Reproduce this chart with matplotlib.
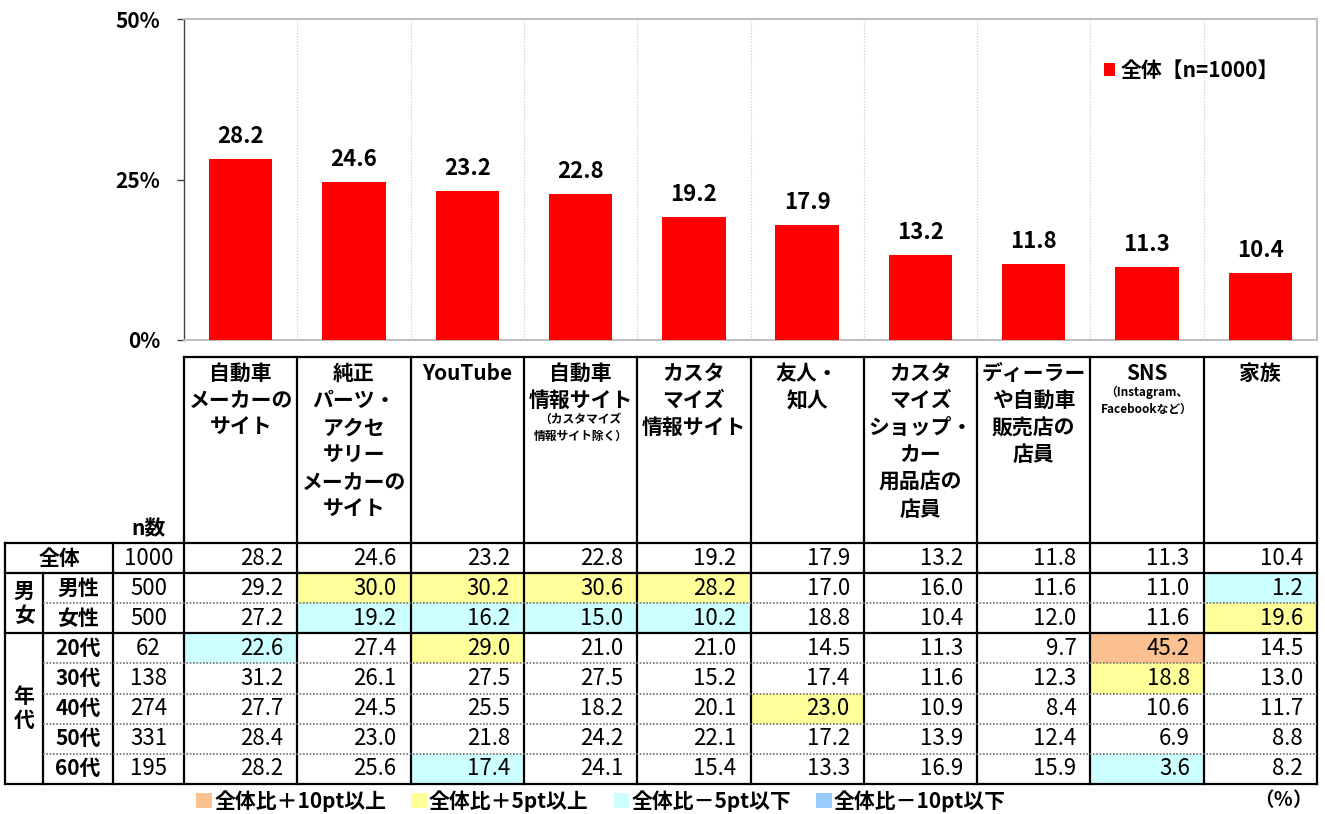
import matplotlib
matplotlib.use('Agg')
import matplotlib.pyplot as plt
from matplotlib.patches import Rectangle, Patch
import numpy as np

plt.rcParams['font.family'] = ['Noto Sans CJK JP', 'DejaVu Sans']

# ---- data ----
categories = ["自動車\nメーカーの\nサイト",
              "純正\nパーツ・\nアクセ\nサリー\nメーカーの\nサイト",
              "YouTube",
              "自動車\n情報サイト",
              "カスタ\nマイズ\n情報サイト",
              "友人・\n知人",
              "カスタ\nマイズ\nショップ・\nカー\n用品店の\n店員",
              "ディーラー\nや自動車\n販売店の\n店員",
              "SNS",
              "家族"]
notes = ["", "", "", "（カスタマイズ\n情報サイト除く）", "", "", "", "",
         "（Instagram、\nFacebookなど）", ""]
total = [28.2, 24.6, 23.2, 22.8, 19.2, 17.9, 13.2, 11.8, 11.3, 10.4]

row_names = ["全体", "男性", "女性", "20代", "30代", "40代", "50代", "60代"]
row_n = [1000, 500, 500, 62, 138, 274, 331, 195]
male = [29.2, 30.0, 30.2, 30.6, 28.2, 17.0, 16.0, 11.6, 11.0, 1.2]
female = [27.2, 19.2, 16.2, 15.0, 10.2, 18.8, 10.4, 12.0, 11.6, 19.6]
age20 = [22.6, 27.4, 29.0, 21.0, 21.0, 14.5, 11.3, 9.7, 45.2, 14.5]
age30 = [31.2, 26.1, 27.5, 27.5, 15.2, 17.4, 11.6, 12.3, 18.8, 13.0]
age40 = [27.7, 24.5, 25.5, 18.2, 20.1, 23.0, 10.9, 8.4, 10.6, 11.7]
age50 = [28.4, 23.0, 21.8, 24.2, 22.1, 17.2, 13.9, 12.4, 6.9, 8.8]
age60 = [28.2, 25.6, 17.4, 24.1, 15.4, 13.3, 16.9, 15.9, 3.6, 8.2]
table_vals = [total, male, female, age20, age30, age40, age50, age60]

legend_labels = ["全体比＋10pt以上", "全体比＋5pt以上", "全体比－5pt以下", "全体比－10pt以下"]
legend_colors = ["#FAC090", "#FFFF99", "#CCFFFF", "#99CCFF"]


def cell_color(v, base):
    d = round(v - base, 1)
    if d >= 10:
        return legend_colors[0]
    if d >= 5:
        return legend_colors[1]
    if d <= -10:
        return legend_colors[3]
    if d <= -5:
        return legend_colors[2]
    return None


W, H = 1325, 814
fig = plt.figure(figsize=(13.25, 8.14), dpi=100, facecolor="white")

# layout in pixels
X0, X1 = 184, 1317
colw = (X1 - X0) / 10
P_TOP, P_BOT = 19, 340

# ---- bar chart ----
ax = fig.add_axes([X0 / W, 1 - P_BOT / H, (X1 - X0) / W, (P_BOT - P_TOP) / H])
xs = np.arange(len(total))
ax.bar(xs, total, width=0.56, color="#FF0000", label="全体【n=1000】", zorder=3)
for x, v in zip(xs, total):
    ax.annotate(f"{v:.1f}", (x, v), xytext=(0, 8), textcoords="offset points",
                ha="center", va="bottom", fontsize=16, fontweight="bold")
ax.set_xlim(-0.5, 9.5)
ax.set_ylim(0, 50)
ax.set_xticks([])
ax.set_yticks([0, 25, 50])
ax.set_yticklabels(["0%", "25%", "50%"], fontsize=15, fontweight="bold")
ax.tick_params(axis="y", length=5, width=1, color="#404040", pad=12)
for b in np.arange(0.5, 9.5):
    ax.axvline(b, color="#C8C8C8", lw=0.8, ls=":", zorder=1)
for s in ["top", "right", "bottom"]:
    ax.spines[s].set_color("#BFBFBF")
    ax.spines[s].set_linewidth(1.5)
ax.spines["left"].set_color("#404040")
ax.spines["left"].set_linewidth(1)
ax.legend(loc="center left", bbox_to_anchor=(0.812, 0.84), frameon=False,
          borderpad=0, borderaxespad=0, handlelength=0.55, handleheight=0.55,
          handletextpad=0.25, prop={"size": 15, "weight": "bold"})

# ---- table (pixel coordinates) ----
tab = fig.add_axes([0, 0, 1, 1])
tab.set_xlim(0, W)
tab.set_ylim(H, 0)
tab.axis("off")

HDR_TOP = 357
ROW_TOP = 543
ROW_H = 30.1
nrows = len(row_names)
row_y = [ROW_TOP + i * ROW_H for i in range(nrows + 1)]
col_x = [X0 + i * colw for i in range(11)]
L0, L1, L2 = 5, 43, 113

# colored cells
for r in range(1, nrows):
    for c in range(10):
        fc = cell_color(table_vals[r][c], total[c])
        if fc:
            tab.add_patch(Rectangle((col_x[c], row_y[r]), colw, ROW_H, fc=fc, ec="none"))

# header labels
for c, (lab, note) in enumerate(zip(categories, notes)):
    t = tab.text(col_x[c] + colw / 2, HDR_TOP + 6, lab, ha="center", va="top",
                 fontsize=15, fontweight="bold", linespacing=1.36, multialignment="center")
    if note:
        tab.annotate(note, xy=(0.5, 0), xycoords=t, xytext=(0, -1), textcoords="offset points",
                     ha="center", va="top", fontsize=8.5, fontweight="bold", linespacing=1.45)

tab.text((L2 + X0) / 2, ROW_TOP - 14, "n数", ha="center", va="center",
         fontsize=15, fontweight="bold")

# values
for r in range(nrows):
    yc = (row_y[r] + row_y[r + 1]) / 2
    if r == 0:
        tab.text((L0 + L2) / 2, yc, row_names[r], ha="center", va="center",
                 fontsize=15, fontweight="bold")
    else:
        tab.text((L1 + L2) / 2, yc, row_names[r], ha="center", va="center",
                 fontsize=15, fontweight="bold")
    tab.text((L2 + X0) / 2, yc, str(row_n[r]), ha="center", va="center", fontsize=16)
    for c in range(10):
        tab.text(col_x[c + 1] - 14, yc, f"{table_vals[r][c]:.1f}", ha="right",
                 va="center", fontsize=16)

tab.text((L0 + L1) / 2, (row_y[1] + row_y[3]) / 2, "男\n女", ha="center", va="center",
         fontsize=15, fontweight="bold", linespacing=1.2)
tab.text((L0 + L1) / 2, (row_y[3] + row_y[8]) / 2, "年\n代", ha="center", va="center",
         fontsize=15, fontweight="bold", linespacing=1.2)

# grid lines
lw = 1.6
tab.plot([X0, X1], [HDR_TOP, HDR_TOP], color="black", lw=lw)
for x in col_x:
    tab.plot([x, x], [HDR_TOP, row_y[-1]], color="black", lw=lw)
tab.plot([L2, L2], [row_y[0], row_y[-1]], color="black", lw=lw)
tab.plot([L1, L1], [row_y[1], row_y[-1]], color="black", lw=lw)
tab.plot([L0, L0], [row_y[0], row_y[-1]], color="black", lw=lw)
for i in [0, 1, 3, 8]:
    tab.plot([L0, X1], [row_y[i], row_y[i]], color="black", lw=lw)
for i in [2, 4, 5, 6, 7]:
    tab.plot([L1, X1], [row_y[i], row_y[i]], color="#707070", lw=1.2, ls=(0, (1, 1)))

# bottom legend
handles = [Patch(facecolor=c, edgecolor="none", label=l) for c, l in zip(legend_colors, legend_labels)]
fig.legend(handles=handles, ncol=4, loc="center left", bbox_to_anchor=(186 / W, 1 - 801 / H),
           frameon=False, borderpad=0, handlelength=0.75, handleheight=0.75,
           handletextpad=0.1, columnspacing=1.2, prop={"size": 15, "weight": "bold"})
tab.text(1283, 801, "（％）", ha="center", va="center", fontsize=14, fontweight="bold")

fig.savefig("out.png", dpi=100, facecolor="white")
